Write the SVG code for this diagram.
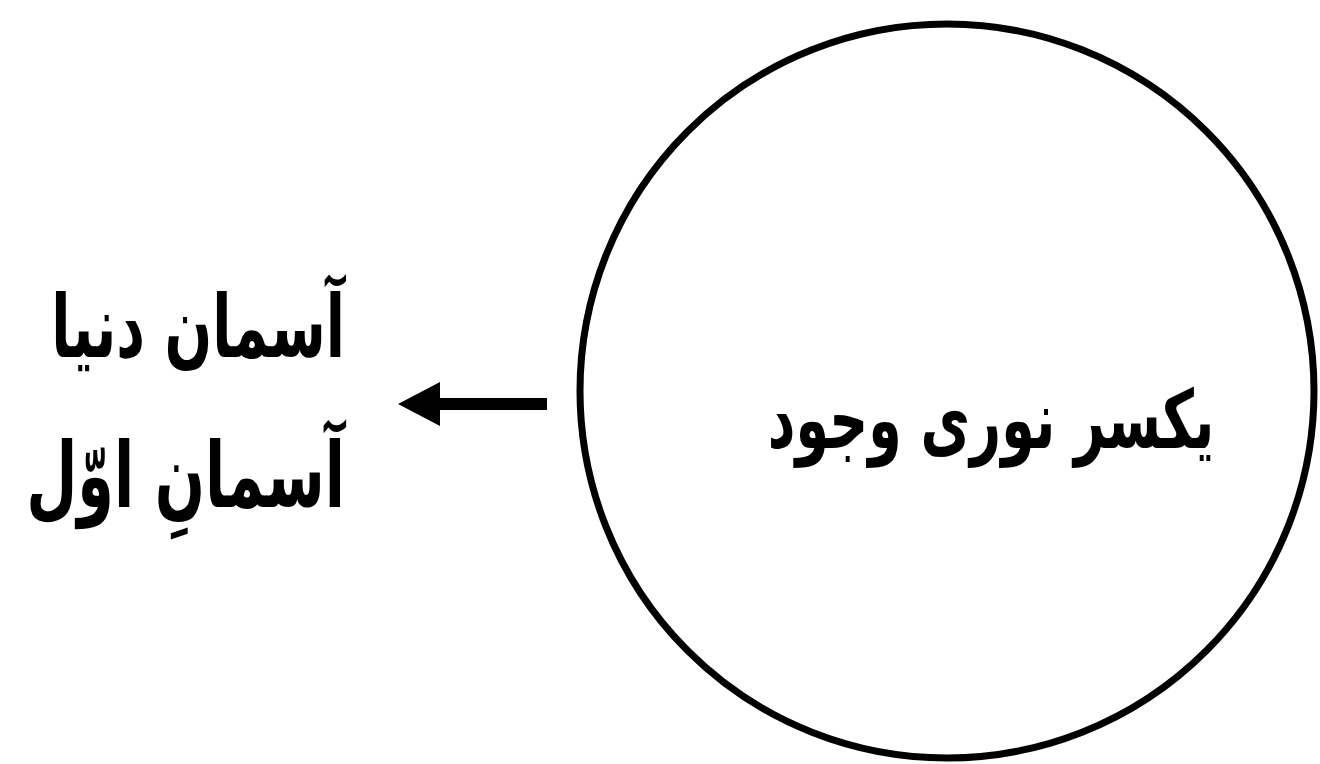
<svg xmlns="http://www.w3.org/2000/svg" width="1320" height="764" viewBox="0 0 1320 764">
<style>
.t{font-family:"DejaVu Sans","Noto Sans",sans-serif;font-weight:bold;fill:#000;}
.ln{stroke:#000;fill:none;}
</style>
<rect width="1320" height="764" fill="#fff"/>
<g id="circle-node">
<circle cx="947" cy="391" r="367" class="ln" stroke-width="7"/>
<text class="t" transform="translate(991,448) scale(1,1.5)" x="0" y="0" font-size="54" text-anchor="middle">یکسر نوری وجود</text>
</g>
<g id="sky-node">
<text class="t" transform="translate(345,357) scale(1,1.55)" x="0" y="0" font-size="56" text-anchor="end">آسمان دنیا</text>
<text class="t" transform="translate(345,507) scale(1,1.55)" x="0" y="0" font-size="59" text-anchor="end">آسمانِ اوّل</text>
</g>
<g id="connectors">
<line x1="547" y1="404" x2="437" y2="404" class="ln" stroke-width="12"/>
<path d="M398,404 L440,382 L440,426 Z" fill="#000"/>
</g>
</svg>
